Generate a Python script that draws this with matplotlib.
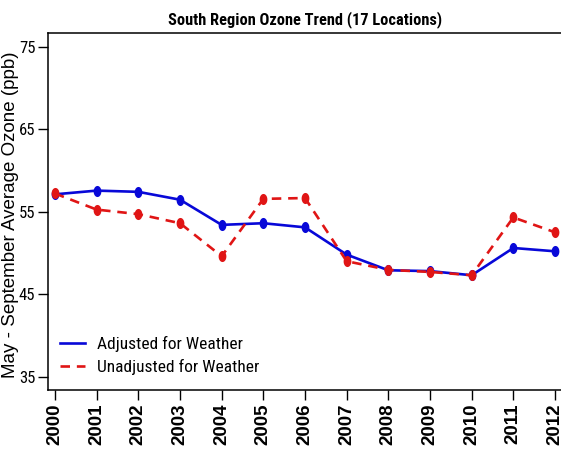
import os
import numpy as np
import matplotlib
matplotlib.use("Agg")
import matplotlib.pyplot as plt
import matplotlib.font_manager as fm
from matplotlib.lines import Line2D

years = list(range(2000, 2013))
adjusted = [57.1, 57.55, 57.4, 56.45, 53.4, 53.6, 53.1, 49.8, 47.9, 47.8, 47.3, 50.6, 50.2]
unadjusted = [57.2, 55.25, 54.7, 53.6, 49.6, 56.55, 56.65, 49.0, 47.95, 47.7, 47.3, 54.3, 52.5]
yticks = [35, 45, 55, 65, 75]
series_names = ['Adjusted for Weather', 'Unadjusted for Weather']

BLUE = '#0808d8'
RED = '#e01515'


# look for a narrow sans font, the reference text is squeezed sideways
def find_narrow(bold):
    order = ['liberation', 'arial', 'roboto', 'noto sans', 'open sans', 'dejavu']
    best = None
    for f in fm.fontManager.ttflist:
        full = (f.name + ' ' + os.path.basename(f.fname)).lower()
        if f.style != 'normal' or 'mono' in full or 'cjk' in full:
            continue
        if 'serif' in full and 'sans' not in full:
            continue
        cond = f.stretch in ('condensed', 'extra-condensed', 'semi-condensed') \
            or 'narrow' in full or 'condensed' in full
        if not cond:
            continue
        w = f.weight if isinstance(f.weight, int) else fm.weight_dict.get(f.weight, 400)
        if bold and not (600 <= w <= 750):
            continue
        if not bold and not (380 <= w <= 520):
            continue
        rank = next((i for i, o in enumerate(order) if o in full), len(order))
        if 'semi' in full or f.stretch == 'semi-condensed':
            rank += 0.5
        if best is None or rank < best[0]:
            best = (rank, f.fname)
    return best[1] if best else None


narrow_reg = find_narrow(False)
narrow_bold = find_narrow(True)


def nfont(size, bold=False):
    path = narrow_bold if bold else narrow_reg
    if path:
        return fm.FontProperties(fname=path, size=size)
    # no narrow font: use a smaller regular one
    return fm.FontProperties(family='Liberation Sans', size=size * 0.82,
                             weight='bold' if bold else 'normal')


fig = plt.figure(figsize=(5.61, 4.51), dpi=100)
W, H = 561, 451
left, right, top, bottom = 47.7, 562.3, 32.5, 390
ax = fig.add_axes([left / W, 1 - bottom / H, (right - left) / W, (bottom - top) / H])

t = np.linspace(0, 2 * np.pi, 24)
ellipse = list(zip(0.7 * np.cos(t), np.sin(t)))

ax.plot(years, adjusted, color=BLUE, lw=1.9, marker=ellipse, ms=8, mew=0)
ax.plot(years, unadjusted, color=RED, lw=1.9, ls=(0, (3.6, 2.6)),
        marker=ellipse, ms=8, mew=0)

ax.set_xlim(1999.825, 2012.175)
ax.set_ylim(33.4, 76.7)
ax.set_xticks(years)
ax.set_xticklabels([str(y) for y in years], rotation=90,
                   family='Liberation Sans', fontweight='bold', fontsize=13.5)
ax.set_yticks(yticks)
ax.set_yticklabels([str(v) for v in yticks], fontproperties=nfont(12))
ax.tick_params(axis='both', length=7.2, width=1, direction='out')
ax.tick_params(axis='x', pad=2.2)
ax.tick_params(axis='y', pad=1.7)

for s in ax.spines.values():
    s.set_linewidth(1.1)

ax.set_title('South Region Ozone Trend (17 Locations)',
             fontproperties=nfont(11.8, bold=True), pad=6)

# label anchor is its right edge (descender side after rotation)
ax.set_ylabel('May - September Average Ozone (ppb)', family='Liberation Sans',
              fontsize=13.5)
ax.yaxis.set_label_coords((19 - left) / (right - left), 0.49)

handles = [Line2D([], [], color=BLUE, lw=1.9),
           Line2D([], [], color=RED, lw=1.9, ls=(0, (3.6, 2.6)))]
leg = ax.legend(handles, series_names, loc='center left',
                bbox_to_anchor=((60 - left) / (right - left), (bottom - 355.5) / (bottom - top)),
                frameon=False, prop=nfont(12.5), borderpad=0, borderaxespad=0,
                handlelength=1.45, handletextpad=0.7, labelspacing=0.45)

fig.savefig('out.png', dpi=100)
